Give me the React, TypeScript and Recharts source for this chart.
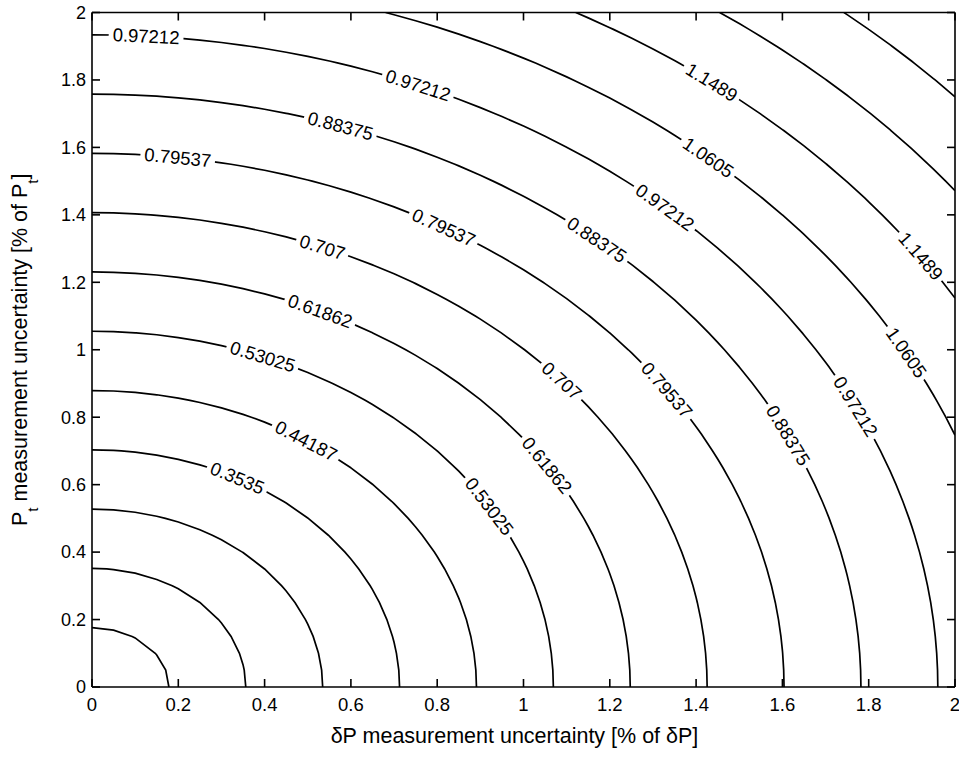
import React from "react";
import { ComposedChart, Line, XAxis, YAxis } from "recharts";

// contour levels (value of each iso-line, innermost first)
const levels = [
  0.088375, 0.17675, 0.26512, 0.3535, 0.44187, 0.53025, 0.61862, 0.707,
  0.79537, 0.88375, 0.97212, 1.0605, 1.1489, 1.2374, 1.3258,
];

// axis intercept per unit of level: x-axis and y-axis radii of each iso-line
const X_PER_LEVEL = 2.0164;
const Y_PER_LEVEL = 1.9893;

const xTicks = [0, 0.2, 0.4, 0.6, 0.8, 1, 1.2, 1.4, 1.6, 1.8, 2];
const yTicks = [0, 0.2, 0.4, 0.6, 0.8, 1, 1.2, 1.4, 1.6, 1.8, 2];

// inline labels: level and approximate spot on the curve
const labelLevels = [
  0.97212, 0.88375, 0.97212, 0.79537, 0.79537, 0.707, 0.61862, 0.53025,
  0.44187, 0.3535, 0.53025, 0.61862, 0.707, 0.79537, 0.88375, 0.88375,
  0.97212, 0.97212, 1.0605, 1.0605, 1.1489, 1.1489,
];
const labelX = [
  0.125, 0.575, 0.756, 0.199, 0.816, 0.533, 0.528, 0.394, 0.496, 0.336, 0.918,
  1.052, 1.089, 1.333, 1.17, 1.611, 1.328, 1.768, 1.43, 1.884, 1.437, 1.926,
];
const labelY = [
  1.924, 1.661, 1.785, 1.572, 1.364, 1.302, 1.113, 0.976, 0.73, 0.618, 0.534,
  0.656, 0.908, 0.881, 1.326, 0.745, 1.423, 0.831, 1.572, 0.99, 1.794, 1.281,
];

const FONT = '"Liberation Sans", Arial, Helvetica, sans-serif';
const W = 959;
const H = 757;
const MARGIN = { top: 12.5, right: 4, left: 0, bottom: 0 };
const Y_AXIS_W = 92;
const X_AXIS_H = 70;
const PLOT_LEFT = MARGIN.left + Y_AXIS_W;
const PLOT_RIGHT = W - MARGIN.right;
const PLOT_TOP = MARGIN.top;
const PLOT_BOTTOM = H - MARGIN.bottom - X_AXIS_H;
const PX_X = (PLOT_RIGHT - PLOT_LEFT) / 2;
const PX_Y = (PLOT_BOTTOM - PLOT_TOP) / 2;
const LABEL_SIZE = 18.5;
const TICK_LEN = 8;
const X_TICK_GAP = 11;
const Y_TICK_GAP = 6;

// walk the iso-line across a 0.05 grid, like a gridded contour would
function contourPoints(level: number) {
  const a = level * X_PER_LEVEL;
  const b = level * Y_PER_LEVEL;
  const pts: { x: number; y: number; t: number }[] = [];
  for (let i = 0; i <= 40; i++) {
    const g = i / 20;
    if (g <= a) {
      const y = b * Math.sqrt(1 - (g / a) ** 2);
      if (y <= 2) pts.push({ x: g, y, t: Math.atan2(y / b, g / a) });
    }
    if (g <= b) {
      const x = a * Math.sqrt(1 - (g / b) ** 2);
      if (x <= 2) pts.push({ x, y: g, t: Math.atan2(g / b, x / a) });
    }
  }
  pts.sort((p, q) => p.t - q.t);
  return pts.filter((p, i) => i === 0 || p.t - pts[i - 1].t > 1e-6);
}

const contours = levels.map((level) => ({ level, points: contourPoints(level) }));

const labelData = labelLevels.map((level, i) => {
  const a = level * X_PER_LEVEL;
  const b = level * Y_PER_LEVEL;
  const t = Math.atan2(labelY[i] / b, labelX[i] / a);
  const sx = -a * Math.sin(t) * PX_X;
  const sy = -b * Math.cos(t) * PX_Y;
  let angle = (Math.atan2(sy, sx) * 180) / Math.PI;
  if (angle < -90) angle += 180;
  if (angle > 90) angle -= 180;
  return { x: a * Math.cos(t), y: b * Math.sin(t), level, angle };
});

function textWidth(s: string) {
  let w = 0;
  for (const ch of s) w += ch === "." ? 0.278 : 0.556;
  return w * LABEL_SIZE;
}

function ContourLabel(props: any) {
  const { cx, cy, payload } = props;
  if (cx == null || cy == null) return <g />;
  const text = String(payload.level);
  const w = textWidth(text) + 8;
  return (
    <g transform={`translate(${cx},${cy}) rotate(${payload.angle})`}>
      <rect x={-w / 2} y={-7} width={w} height={14} fill="#fff" />
      <text
        x={0}
        y={0}
        dy="0.35em"
        textAnchor="middle"
        fontSize={LABEL_SIZE}
        fontFamily={FONT}
        fill="#000"
      >
        {text}
      </text>
    </g>
  );
}

// bottom tick: inward marks on bottom and top edges, plus the number
function XTick({ x, y, payload }: any) {
  return (
    <g>
      <line x1={x} x2={x} y1={PLOT_BOTTOM} y2={PLOT_BOTTOM - TICK_LEN} stroke="#000" strokeWidth={1.6} />
      <line x1={x} x2={x} y1={PLOT_TOP} y2={PLOT_TOP + TICK_LEN} stroke="#000" strokeWidth={1.6} />
      <text x={x} y={y} dy="0.71em" textAnchor="middle" fontSize={18.5} fontFamily={FONT} fill="#000">
        {payload.value}
      </text>
    </g>
  );
}

// left tick: inward marks on left and right edges, plus the number
function YTick({ x, y, payload }: any) {
  return (
    <g>
      <line x1={PLOT_LEFT} x2={PLOT_LEFT + TICK_LEN} y1={y} y2={y} stroke="#000" strokeWidth={1.6} />
      <line x1={PLOT_RIGHT} x2={PLOT_RIGHT - TICK_LEN} y1={y} y2={y} stroke="#000" strokeWidth={1.6} />
      <text x={x} y={y} dy="0.355em" textAnchor="end" fontSize={18} fontFamily={FONT} fill="#000">
        {payload.value}
      </text>
    </g>
  );
}

const XTitle = ({ viewBox }: any) => (
  <text
    x={viewBox.x + viewBox.width / 2 - 9}
    y={743}
    textAnchor="middle"
    fontSize={21.5}
    fontFamily={FONT}
    fill="#000"
  >
    δP measurement uncertainty [% of δP]
  </text>
);

const YTitle = ({ viewBox }: any) => (
  <text
    transform="rotate(-90)"
    x={-(viewBox.y + viewBox.height / 2)}
    y={27}
    textAnchor="middle"
    fontSize={21.5}
    fontFamily={FONT}
    fill="#000"
  >
    <tspan>P</tspan>
    <tspan dy={11} fontSize={15}>t</tspan>
    <tspan dy={-11}> measurement uncertainty [% of P</tspan>
    <tspan dy={11} fontSize={15}>t</tspan>
    <tspan dy={-11}>]</tspan>
  </text>
);

const axisStroke = { stroke: "#000", strokeWidth: 1.6 };

export default function App() {
  return (
    <div style={{ position: "absolute", left: 0, top: 0, background: "#fff" }}>
      <ComposedChart width={W} height={H} margin={MARGIN}>
        <XAxis
          type="number"
          dataKey="x"
          domain={[0, 2]}
          ticks={xTicks}
          interval={0}
          allowDataOverflow
          height={X_AXIS_H}
          tickLine={false}
          tickSize={0}
          tickMargin={X_TICK_GAP}
          axisLine={axisStroke}
          tick={<XTick />}
          label={<XTitle />}
        />
        <XAxis
          xAxisId="top"
          orientation="top"
          mirror
          type="number"
          domain={[0, 2]}
          allowDataOverflow
          tick={false}
          tickLine={false}
          axisLine={axisStroke}
        />
        <YAxis
          type="number"
          dataKey="y"
          domain={[0, 2]}
          ticks={yTicks}
          interval={0}
          allowDataOverflow
          width={Y_AXIS_W}
          tickLine={false}
          tickSize={0}
          tickMargin={Y_TICK_GAP}
          axisLine={axisStroke}
          tick={<YTick />}
          label={<YTitle />}
        />
        <YAxis
          yAxisId="right"
          orientation="right"
          mirror
          type="number"
          domain={[0, 2]}
          allowDataOverflow
          tick={false}
          tickLine={false}
          axisLine={axisStroke}
        />
        {contours.map((c) => (
          <Line
            key={c.level}
            data={c.points}
            dataKey="y"
            type="linear"
            stroke="#000"
            strokeWidth={1.7}
            dot={false}
            activeDot={false}
            isAnimationActive={false}
          />
        ))}
        <Line
          data={labelData}
          dataKey="y"
          stroke="none"
          activeDot={false}
          isAnimationActive={false}
          dot={(p: any) => <ContourLabel key={`lbl-${p.index}`} {...p} />}
        />
      </ComposedChart>
    </div>
  );
}
